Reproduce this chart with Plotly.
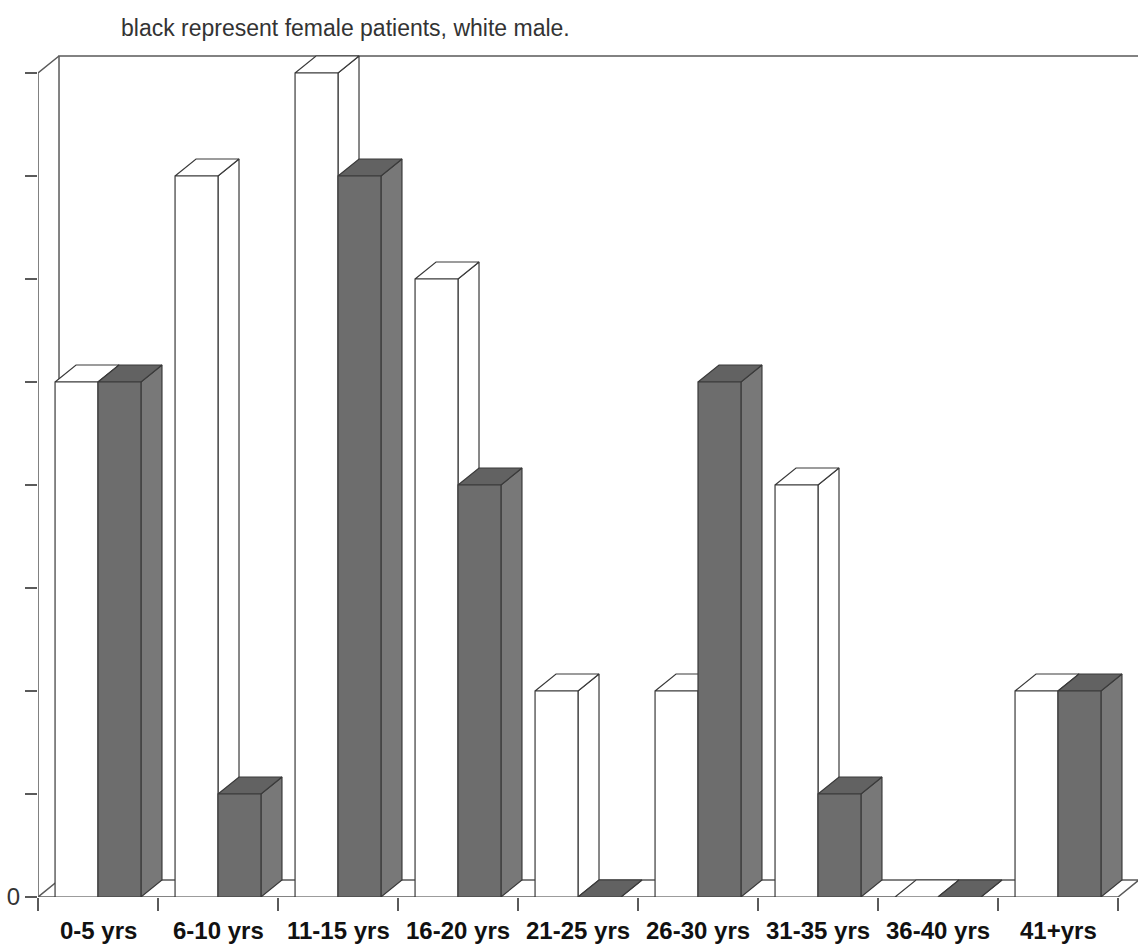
import plotly.graph_objects as go

# Age groups and patient counts (white = male, black = female)
categories = ["0-5 yrs", "6-10 yrs", "11-15 yrs", "16-20 yrs", "21-25 yrs",
              "26-30 yrs", "31-35 yrs", "36-40 yrs", "41+yrs"]
male = [5, 7, 8, 6, 2, 2, 4, 0, 2]
female = [5, 1, 7, 4, 0, 5, 1, 0, 2]
y_ticks = [0, 1, 2, 3, 4, 5, 6, 7, 8]
y_tick_text = ["0", "", "", "", "", "", "", "", ""]

# Pseudo-3D geometry in data units
BAR_W = 0.358          # width of each column's front face
DX, DY = 0.175, 0.165  # depth offset of the receding faces
EDGE = "#3a3a3a"
AXIS = "#5a5a5a"

W, H = 1138, 951
M_L, M_R, M_T, M_B = 38, 0, 40, 54
PX_PER_CAT = 120.0
PX_PER_UNIT = 103.0
PLOT_W = W - M_L - M_R
PLOT_H = H - M_T - M_B
x_min = -0.5001
x_max = -0.5 + PLOT_W / PX_PER_CAT
y_max = PLOT_H / PX_PER_UNIT

fig = go.Figure()


def poly(xs, ys, fill, line=EDGE, width=1.2):
    fig.add_trace(go.Scatter(
        x=list(xs) + [xs[0]], y=list(ys) + [ys[0]],
        mode="lines", fill="toself", fillcolor=fill,
        line=dict(color=line, width=width),
        hoverinfo="skip", showlegend=False))


def path(xs, ys, color=AXIS, width=1.5):
    fig.add_trace(go.Scatter(
        x=xs, y=ys, mode="lines",
        line=dict(color=color, width=width),
        hoverinfo="skip", showlegend=False))


n = len(categories)
left, right = -0.5, n - 0.5
top = max(y_ticks)

# floor slab and back wall
poly([left, right, right + DX, left + DX], [0, 0, DY, DY], "white", AXIS, 1.5)
path([left + DX, left + DX, right + DX + 0.5], [DY, top + DY, top + DY])
# front value axis with its top corner
path([left, left, left + DX], [0, top, top + DY])


def column(x0, value, front, top_c, side_c):
    x1 = x0 + BAR_W
    # right side face
    poly([x1, x1 + DX, x1 + DX, x1], [0, DY, value + DY, value], side_c)
    # top face
    poly([x0, x1, x1 + DX, x0 + DX], [value, value, value + DY, value + DY], top_c)
    # front face
    if value > 0:
        poly([x0, x1, x1, x0], [0, 0, value, value], front)


for i in range(n):
    column(i - BAR_W, male[i], "white", "white", "white")
    column(i, female[i], "#6d6d6d", "#626262", "#787878")

# category labels under each group
label_y = -33 / PLOT_H
for i, name in enumerate(categories):
    fig.add_annotation(x=i, y=label_y, xref="x", yref="paper", text=name,
                       showarrow=False, xanchor="center", yanchor="middle",
                       font=dict(family="Liberation Sans", size=24,
                                 color="#111111", weight="bold"))

fig.add_annotation(x=(119 - M_L) / PLOT_W, y=(H - M_B - 28) / PLOT_H,
                   xref="paper", yref="paper", xanchor="left", yanchor="middle",
                   text="black represent female patients, white male.",
                   showarrow=False,
                   font=dict(family="Liberation Sans", size=23, color="#333333"))

fig.update_layout(
    width=W, height=H,
    margin=dict(l=M_L, r=M_R, t=M_T, b=M_B),
    paper_bgcolor="white", plot_bgcolor="white",
    showlegend=False,
    xaxis=dict(range=[x_min, x_max], showgrid=False, zeroline=False,
               showline=False, tickmode="array",
               tickvals=[k - 0.5 for k in range(n + 1)],
               ticktext=[""] * (n + 1), ticks="outside", ticklen=13,
               tickwidth=1.5, tickcolor=AXIS, fixedrange=True),
    yaxis=dict(range=[0, y_max], showgrid=False, zeroline=False,
               showline=False, tickmode="array", tickvals=y_ticks,
               ticktext=y_tick_text, ticks="outside", ticklen=12,
               tickwidth=1.5, tickcolor=AXIS,
               tickfont=dict(family="Liberation Sans", size=24, color="#333333"),
               fixedrange=True),
)

fig.write_html("out.html")
